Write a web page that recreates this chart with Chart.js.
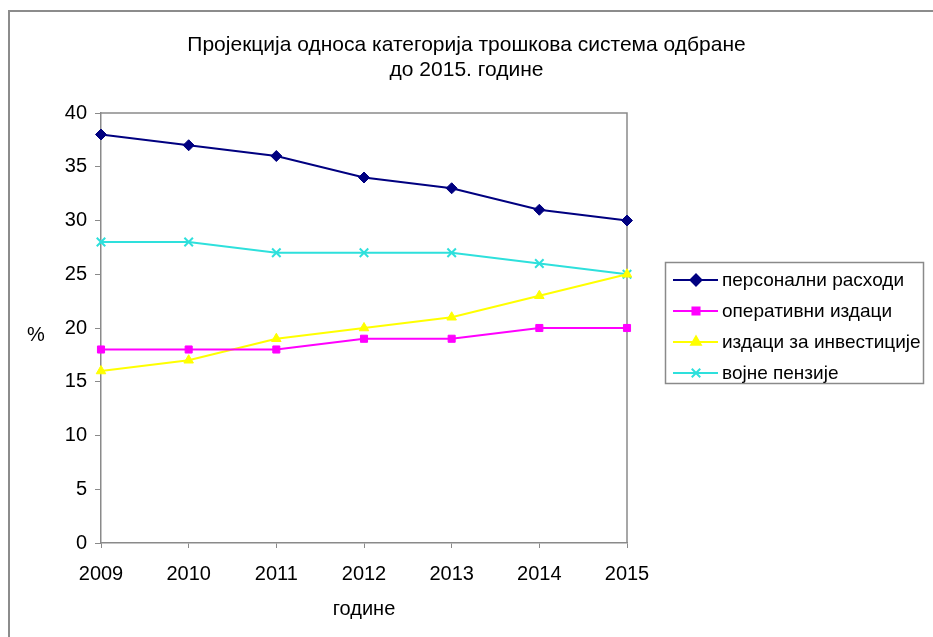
<!DOCTYPE html>
<html>
<head>
<meta charset="utf-8">
<script src="https://cdn.jsdelivr.net/npm/chart.js@4/dist/chart.umd.min.js"></script>
<style>
  html, body { margin: 0; padding: 0; background: #fff; }
  #wrap { width: 933px; height: 637px; position: relative; }
</style>
</head>
<body>
<div id="wrap"><canvas id="line"></canvas></div>
<script>
// data
const years = ["2009", "2010", "2011", "2012", "2013", "2014", "2015"];
const personalni = [38, 37, 36, 34, 33, 31, 30];
const operativni = [18, 18, 18, 19, 19, 20, 20];
const investicije = [16, 17, 19, 20, 21, 23, 25];
const penzije = [28, 28, 27, 27, 27, 26, 25];
const seriesNames = ["персонални расходи", "оперативни издаци", "издаци за инвестиције", "војне пензије"];
const titleLines = ["Пројекција односа категорија трошкова система одбране", "до 2015. године"];
const xTitle = "године";
const yTitle = "%";

const FONT = "'Liberation Sans', Arial, sans-serif";
Chart.defaults.font.family = FONT;
Chart.defaults.color = "#000";

// frame, plot border, "%" label and legend with line + marker
const decor = {
  id: "decor",
  beforeDraw(chart) {
    const ctx = chart.ctx;
    ctx.save();
    ctx.fillStyle = "#fff";
    ctx.fillRect(0, 0, chart.width, chart.height);
    ctx.strokeStyle = "#8c8c8c";
    ctx.lineWidth = 2;
    ctx.beginPath();
    ctx.moveTo(9, chart.height);
    ctx.lineTo(9, 11);
    ctx.lineTo(chart.width, 11);
    ctx.stroke();
    ctx.restore();
  },
  beforeDatasetsDraw(chart) {
    const ctx = chart.ctx;
    const a = chart.chartArea;
    ctx.save();
    ctx.strokeStyle = "#8a8a8a";
    ctx.lineWidth = 1.5;
    ctx.beginPath();
    ctx.moveTo(a.left, a.top);
    ctx.lineTo(a.right, a.top);
    ctx.lineTo(a.right, a.bottom);
    ctx.stroke();
    ctx.font = "20px " + FONT;
    ctx.fillStyle = "#000";
    ctx.textAlign = "center";
    ctx.textBaseline = "middle";
    ctx.fillText(yTitle, 36, 335);
    ctx.restore();
  },
  afterDraw(chart) {
    const ctx = chart.ctx;
    ctx.save();
    ctx.strokeStyle = "#8a8a8a";
    ctx.lineWidth = 1.5;
    ctx.strokeRect(665.5, 262.5, 258, 121);
    ctx.font = "19px " + FONT;
    ctx.textAlign = "left";
    ctx.textBaseline = "middle";
    chart.data.datasets.forEach((ds, i) => {
      const y = 280 + i * 31;
      ctx.strokeStyle = ds.borderColor;
      ctx.lineWidth = 2;
      ctx.beginPath();
      ctx.moveTo(673, y);
      ctx.lineTo(718, y);
      ctx.stroke();
      ctx.fillStyle = ds.pointBackgroundColor;
      ctx.strokeStyle = ds.pointBorderColor;
      Chart.helpers.drawPoint(ctx, {
        pointStyle: ds.pointStyle,
        radius: ds.pointRadius,
        rotation: 0,
        borderWidth: ds.pointBorderWidth,
      }, 696, y);
      ctx.fillStyle = "#000";
      ctx.fillText(ds.label, 722, y + 1);
    });
    ctx.restore();
  },
};

function series(label, data, color, style, radius, bw) {
  return {
    label: label,
    data: data,
    borderColor: color,
    backgroundColor: color,
    borderWidth: 2,
    pointStyle: style,
    pointRadius: radius,
    pointHoverRadius: radius,
    pointBackgroundColor: color,
    pointBorderColor: color,
    pointBorderWidth: bw,
    tension: 0,
    clip: false,
  };
}

const ctx = document.getElementById("line").getContext("2d");
const lineChart = new Chart(ctx, {
  type: "line",
  data: {
    labels: years,
    datasets: [
      series(seriesNames[0], personalni, "#000080", "rectRot", 5.5, 1),
      series(seriesNames[1], operativni, "#ff00ff", "rect", 5, 1),
      series(seriesNames[2], investicije, "#ffff00", "triangle", 5.5, 1),
      series(seriesNames[3], penzije, "#2ee0dc", "crossRot", 6, 2),
    ],
  },
  plugins: [decor],
  options: {
    responsive: true,
    maintainAspectRatio: false,
    animation: false,
    layout: { padding: 0 },
    plugins: {
      legend: { display: false },
      tooltip: { enabled: false },
      title: {
        display: true,
        text: titleLines,
        font: { size: 21, weight: "normal", lineHeight: 1.15 },
        color: "#000",
        padding: { top: 33.5, bottom: 31.2 },
      },
    },
    scales: {
      x: {
        offset: false,
        afterFit: (s) => { s.height = 94; },
        grid: {
          drawOnChartArea: false,
          drawTicks: true,
          tickLength: 5,
          color: "#8a8a8a",
        },
        border: { display: true, color: "#8a8a8a", width: 1.5 },
        ticks: { font: { size: 20 }, padding: 14, maxRotation: 0 },
        title: {
          display: true,
          text: xTitle,
          font: { size: 20 },
          padding: { top: 0, bottom: 16 },
        },
      },
      y: {
        min: 0,
        max: 40,
        afterFit: (s) => { s.width = 101; },
        grid: {
          drawOnChartArea: false,
          drawTicks: true,
          tickLength: 6,
          color: "#8a8a8a",
        },
        border: { display: true, color: "#8a8a8a", width: 1.5 },
        ticks: { stepSize: 5, font: { size: 20 }, padding: 8 },
      },
      // empty right-side box that keeps room for the legend
      side: {
        type: "linear",
        position: "right",
        afterFit: (s) => { s.width = 306; },
        grid: { display: false },
        border: { display: false },
        ticks: { display: false },
      },
    },
  },
});
</script>
</body>
</html>
